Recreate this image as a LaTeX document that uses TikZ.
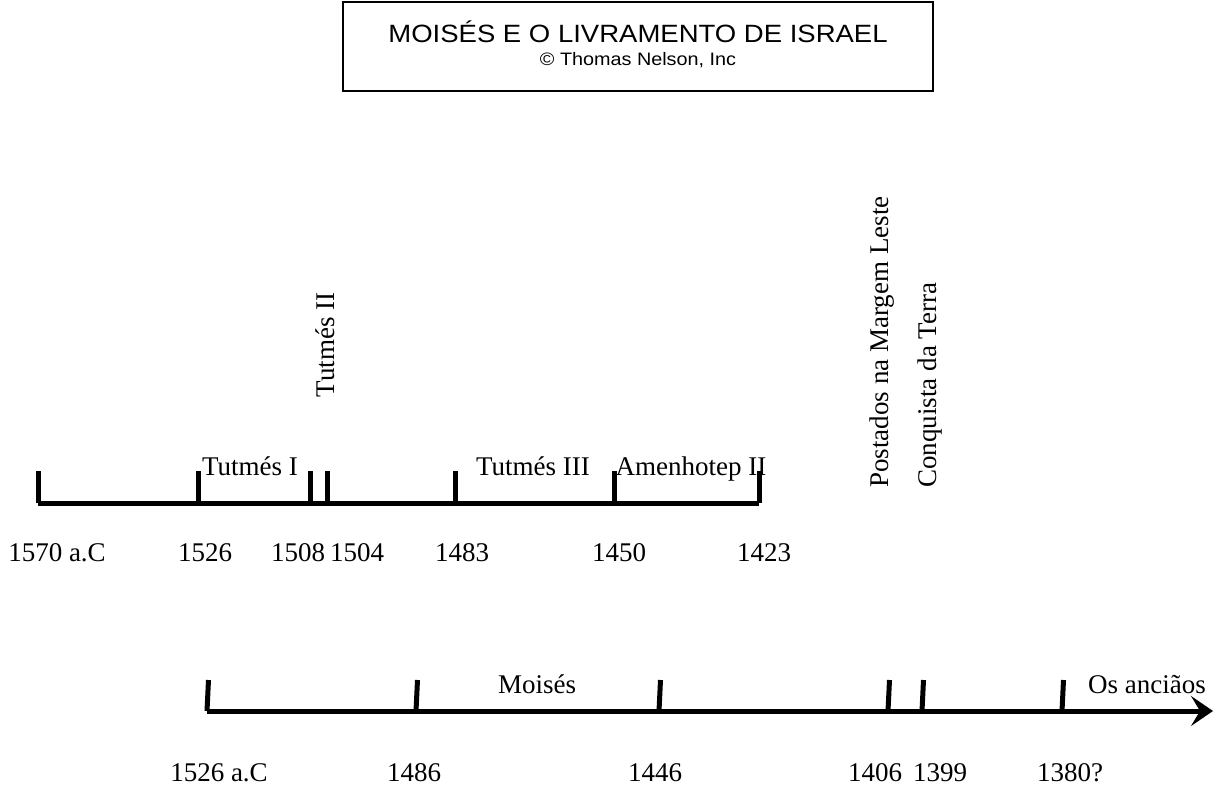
\documentclass[tikz,border=0pt]{standalone}
\usepackage{fontspec}
\setmainfont{Liberation Serif}
\newfontfamily\titlefont[FakeStretch=1.1]{Liberation Sans}
\usetikzlibrary{arrows.meta}

\begin{document}
\begin{tikzpicture}[x=0.5pt,y=-0.5pt,
  bar/.style={line width=2.5pt},
  lbl/.style={font=\fontsize{13.5}{16}\selectfont, inner sep=0pt, anchor=base},
  vlbl/.style={lbl, rotate=90, anchor=west}]
\useasboundingbox (0,0) rectangle (1214,785);

% title
\node[draw, line width=1pt, minimum width=295pt, minimum height=44.5pt] (box) at (638,46.5) {};
\node[font=\titlefont\fontsize{12.5}{15}\selectfont, inner sep=0pt, anchor=base] (title) at (638,43) {MOISÉS E O LIVRAMENTO DE ISRAEL};
\node[font=\titlefont\fontsize{9}{11}\selectfont, inner sep=0pt, anchor=base] (sub) at (638,66) {© Thomas Nelson, Inc};

% top line
\foreach \x/\n in {38/a,198/b,310/c,327/d,455/e,614/f,759/g}{
  \coordinate (t\n) at (\x,503);
  \coordinate (u\n) at (\x,471);
}
\draw[bar] (ta) -- (tg);
\foreach \n in {a,b,c,d,e,f,g}
  \draw[bar] (t\n) -- (u\n);

\node[lbl] (tut1) at (250,475) {Tutmés I};
\node[vlbl, anchor=center] (tut2) at (325,345) {Tutmés II};
\node[lbl] (tut3) at (533,475) {Tutmés III};
\node[lbl] (amen) at (691,475) {Amenhotep II};

\node[lbl] (d1570) at (57,561) {1570 a.C};
\node[lbl] (d1526) at (205,561) {1526};
\node[lbl] (d1508) at (298,561) {1508};
\node[lbl] (d1504) at (357,561) {1504};
\node[lbl] (d1483) at (462,561) {1483};
\node[lbl] (d1450) at (619,561) {1450};
\node[lbl] (d1423) at (764,561) {1423};

\node[vlbl] (margem) at (882,488) {Postados na Margem Leste};
\node[vlbl] (conq) at (930,488) {Conquista da Terra};

% bottom line
\foreach \x/\n in {207/a,416/b,659/c,888/d,922/e,1062/f}{
  \coordinate (b\n) at (\x,711);
  \coordinate (c\n) at (\x+1.5,680);
}
\coordinate (end) at (1213,711);
\draw[bar, -{Stealth[length=11pt, width=15pt, inset=4.5pt]}] (ba) -- (end);
\foreach \n in {a,b,c,d,e,f}
  \draw[bar] (b\n) -- (c\n);

\node[lbl] (moises) at (537,693) {Moisés};
\node[lbl] (anc) at (1147,693) {Os anciãos};

\node[lbl] (e1526) at (219,781) {1526 a.C};
\node[lbl] (e1486) at (414,781) {1486};
\node[lbl] (e1446) at (655,781) {1446};
\node[lbl] (e1406) at (875,781) {1406};
\node[lbl] (e1399) at (940,781) {1399};
\node[lbl] (e1380) at (1070,781) {1380?};
\end{tikzpicture}
\end{document}
